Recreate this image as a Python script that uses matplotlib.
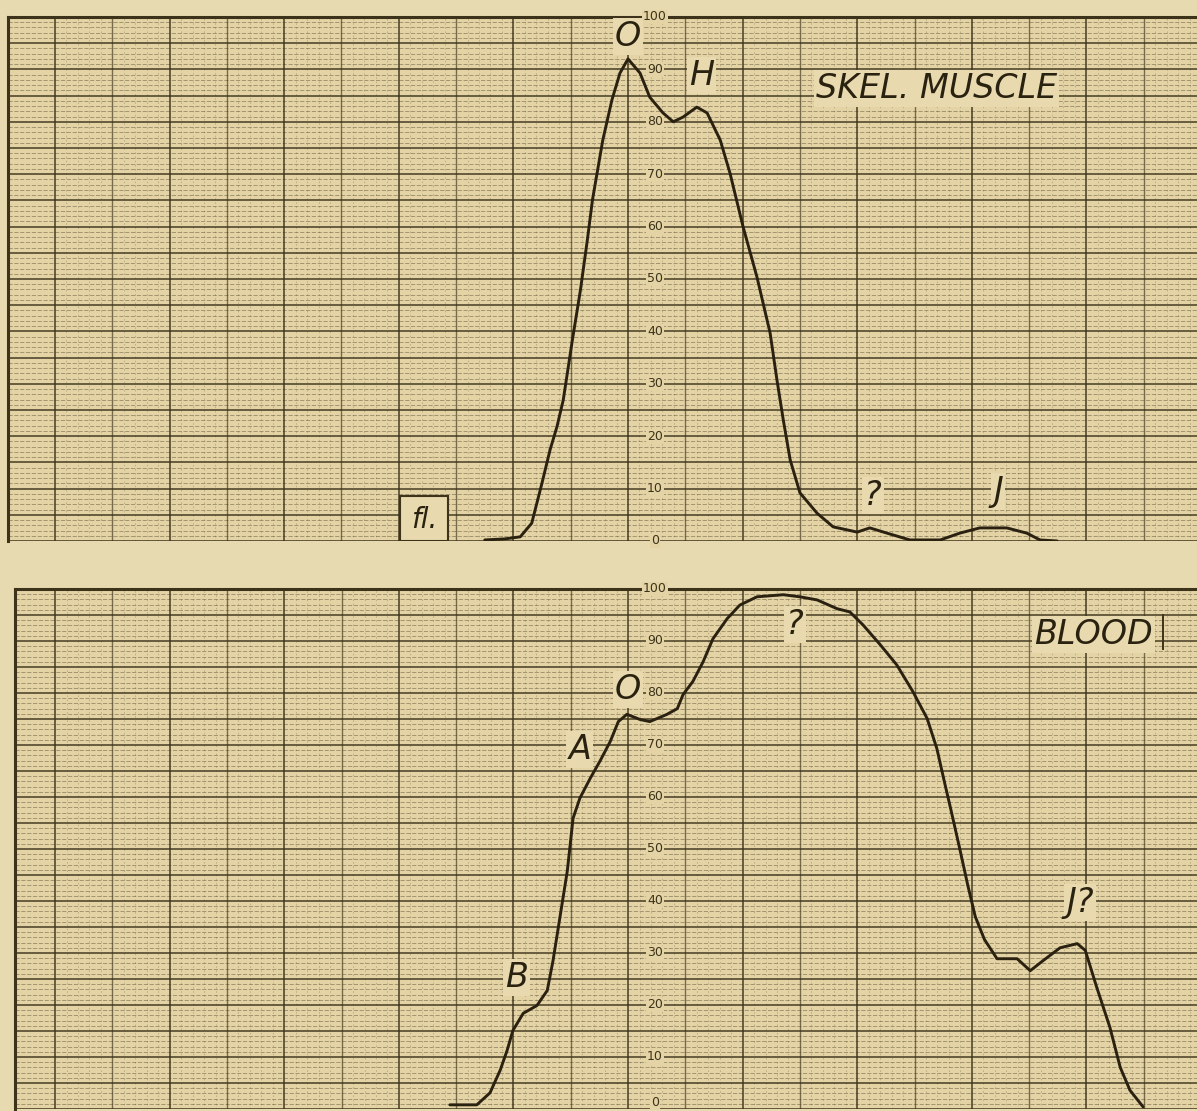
import matplotlib.pyplot as plt
import matplotlib.patches as mpatches
import numpy as np

# densitometer traces, x in chart divisions (10 per heavy line), y in percent
muscle_x = [75.0, 78.5, 81.2, 83.2, 85.0, 86.4, 87.6, 88.7, 90.3, 91.7, 92.9, 93.8,
            94.7, 95.6, 97.2, 98.6, 100.0, 102.1, 103.8, 106.1, 107.9, 109.6, 112.0,
            113.8, 116.1, 117.8, 120.1, 122.5, 124.8, 126.0, 127.1, 128.3, 130.0,
            133.0, 135.8, 140.0, 142.2, 145.2, 149.2, 154.5, 157.9, 161.4, 166.1,
            169.6, 171.9, 174.9]
muscle_y = [0.2, 0.4, 0.8, 3.4, 11.1, 17.4, 21.8, 26.9, 38.4, 47.9, 57.4, 65.1,
            70.8, 76.5, 84.2, 89.3, 92.0, 89.3, 84.7, 81.7, 80.0, 80.9, 82.8,
            81.7, 76.5, 70.2, 59.9, 50.4, 39.7, 30.7, 23.1, 15.5, 9.2,
            5.3, 2.7, 1.7, 2.5, 1.5, 0.2, 0.2, 1.5, 2.5, 2.5,
            1.5, 0.2, 0.0]

blood_x = [68.9, 73.6, 75.9, 77.7, 78.9, 79.9, 81.7, 84.1, 85.9, 86.9, 88.1, 89.4,
           90.4, 91.6, 93.4, 95.1, 96.9, 98.3, 99.8, 102.1, 103.8, 106.8, 108.6,
           109.6, 111.3, 113.1, 114.8, 117.3, 119.5, 122.5, 127.1, 130.0, 133.0,
           136.5, 138.7, 141.0, 144.0, 146.9, 149.7, 152.2, 153.9, 155.3, 156.4,
           157.9, 159.3, 160.6, 162.2, 164.4, 167.9, 170.2, 172.4, 175.4, 178.4,
           179.8, 181.8, 184.1, 185.9, 187.6, 189.9]
blood_y = [0.8, 0.8, 3.1, 7.5, 11.3, 15.1, 18.4, 19.9, 22.8, 28.5, 36.8, 45.8,
           55.9, 59.8, 63.6, 66.9, 70.7, 74.5, 75.9, 74.9, 74.5, 75.9, 77.0,
           79.7, 82.2, 86.0, 90.4, 94.3, 96.9, 98.5, 98.9, 98.5, 97.9,
           96.2, 95.6, 93.1, 89.3, 85.4, 80.3, 75.1, 69.3, 62.5, 57.3,
           50.0, 43.0, 37.0, 32.6, 28.9, 28.9, 26.6, 28.5, 31.0, 31.8,
           30.5, 23.4, 15.7, 8.0, 3.6, 0.4]

scale_labels = [0, 10, 20, 30, 40, 50, 60, 70, 80, 90, 100]

# (text, x, y) annotations written on the chart paper
muscle_notes = [("O", 100.0, 96.2), ("H", 112.9, 88.9), ("SKEL. MUSCLE", 153.9, 86.3),
                ("?", 142.8, 8.6), ("J", 164.6, 9.4)]
blood_notes = [("?", 129.1, 93.1), ("O", 100.0, 80.7), ("A", 91.6, 69.2),
               ("B", 80.6, 25.3), ("J?", 178.9, 39.7)]

paper = '#E8DAB0'
grid_bg = '#E3D3A5'
label_bg = '#E8D9AE'
ink = '#3d331a'
trace = '#2a2110'
letter_ink = '#2a2210'

fig = plt.figure(figsize=(11.97, 11.11), dpi=100, facecolor=paper)
ax_top = fig.add_axes([8 / 1197, 570 / 1111, 1189 / 1197, 524 / 1111])
ax_bot = fig.add_axes([15 / 1197, 2 / 1111, 1182 / 1197, 520 / 1111])


def chart_paper(ax, x0, zero_above=False):
    ax.set_facecolor(grid_bg)
    ax.set_xlim(x0, 199.3)
    ax.set_ylim(0, 100)
    ax.set_xticks([])
    ax.set_yticks([])
    for s in ['right', 'bottom']:
        ax.spines[s].set_visible(False)
    for s in ['top', 'left']:
        ax.spines[s].set_color(ink)
        ax.spines[s].set_linewidth(2.2)
    # fine dashed rulings
    for y in range(1, 100):
        if y % 5:
            ax.axhline(y, color=ink, lw=0.6, alpha=0.45, ls=(0, (5, 2)), zorder=1)
    for x in np.arange(0, 200, 2):
        if x % 10:
            ax.axvline(x, color=ink, lw=0.6, alpha=0.25, ls=(0, (2, 3)), zorder=1)
    # heavy rulings
    for y in range(5, 100, 5):
        ax.axhline(y, color=ink, lw=1.3, alpha=0.8, zorder=2)
    for x in range(0, 200, 10):
        heavy = x % 20 == 0
        ax.axvline(x, color=ink, lw=1.3 if heavy else 1.0, alpha=0.8 if heavy else 0.65, zorder=2)
    ax.axhline(0, color=ink, lw=1.8, zorder=2)
    for v in scale_labels:
        va = 'bottom' if (v == 0 and zero_above) else 'center'
        ax.text(104.7, v, str(v), ha='center', va=va,
                fontsize=9, color=ink, zorder=3, bbox=dict(fc=grid_bg, ec='none', pad=0.6))


def lettering(ax, notes, size=24):
    for t, x, y in notes:
        ax.text(x, y, t, ha='center', va='center', fontsize=size, style='oblique',
                family='DejaVu Sans', color=letter_ink, zorder=5,
                bbox=dict(fc=label_bg, ec='none', pad=1.5))


chart_paper(ax_top, -8.2)
chart_paper(ax_bot, -7.0, zero_above=True)

ax_top.plot(muscle_x, muscle_y, color=trace, lw=2.1, zorder=4,
            solid_capstyle='round', solid_joinstyle='round')
ax_bot.plot(blood_x, blood_y, color=trace, lw=2.1, zorder=4,
            solid_capstyle='round', solid_joinstyle='round')

lettering(ax_top, muscle_notes)
lettering(ax_bot, blood_notes)

# boxed "fl." marker on the baseline
ax_top.add_patch(mpatches.Rectangle((60.2, 0), 8.4, 8.6, fc=label_bg, ec=ink, lw=1.5, zorder=5))
ax_top.text(64.4, 4.0, "fl.", ha='center', va='center', fontsize=20, style='oblique',
            family='DejaVu Sans', color=letter_ink, zorder=6)

# BLOOD label with its right-hand rule
ax_bot.text(181.2, 91.2, "BLOOD", ha='center', va='center', fontsize=24, style='oblique',
            family='DejaVu Sans', color=letter_ink, zorder=5,
            bbox=dict(fc=label_bg, ec='none', pad=1.5))
ax_bot.plot([193.3, 193.3], [88.5, 95.0], color=ink, lw=1.4, zorder=6)

fig.savefig('out.png', dpi=100, facecolor=paper)
